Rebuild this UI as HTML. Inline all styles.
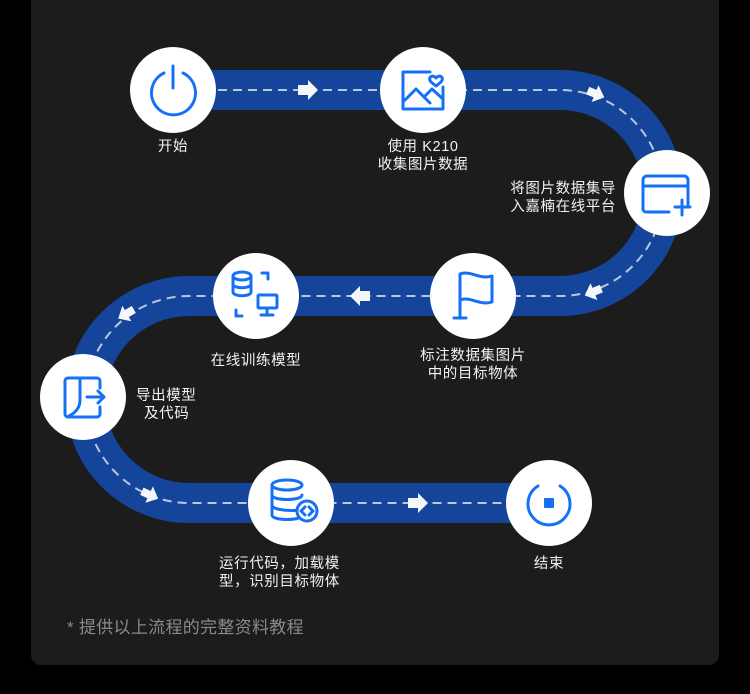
<!DOCTYPE html>
<html><head><meta charset="utf-8"><style>
html,body{margin:0;padding:0;background:#000;width:750px;height:694px;overflow:hidden}
svg{display:block}
text{font-family:"Liberation Sans","Noto Sans CJK SC",sans-serif;fill:#f2f2f2;font-size:14.5px;letter-spacing:0.6px}
</style></head><body>
<svg width="750" height="694" viewBox="0 0 750 694" xmlns="http://www.w3.org/2000/svg">
<rect x="0" y="0" width="750" height="694" fill="#000"/>
<rect x="31" y="-12" width="688" height="677" rx="10" fill="#1c1c1c"/>
<path d="M173 90 H560 A103 103 0 0 1 560 296 H189 A103.5 103.5 0 0 0 189 503 H549" fill="none" stroke="#15459a" stroke-width="40"/>
<path d="M173 90 H560 A103 103 0 0 1 560 296 H189 A103.5 103.5 0 0 0 189 503 H549" fill="none" stroke="#b9c7df" stroke-width="2" stroke-dasharray="9 6"/>
<g fill="#f4f6fa">
<path d="M298 85 h10 v-5 l10 10 -10 10 v-5 h-10z"/>
<path d="M408 498 h10 v-5 l10 10 -10 10 v-5 h-10z"/>
<path d="M370 291 h-10 v-5 l-10 10 10 10 v-5 h10z"/>
<g transform="translate(596 94) rotate(22)"><path d="M-9 -4 h8 v-5 l10 9 -10 9 v-5 h-8z"/></g>
<g transform="translate(593 292) rotate(158)"><path d="M-9 -4 h8 v-5 l10 9 -10 9 v-5 h-8z"/></g>
<g transform="translate(126 314) rotate(150)"><path d="M-9 -4 h8 v-5 l10 9 -10 9 v-5 h-8z"/></g>
<g transform="translate(150 495) rotate(25)"><path d="M-9 -4 h8 v-5 l10 9 -10 9 v-5 h-8z"/></g>
</g>
<g fill="#fff">
<circle cx="173" cy="90" r="43"/>
<circle cx="423" cy="90" r="43"/>
<circle cx="667" cy="193" r="43"/>
<circle cx="473" cy="296" r="43"/>
<circle cx="256" cy="296" r="43"/>
<circle cx="83" cy="397" r="43"/>
<circle cx="291" cy="503" r="43"/>
<circle cx="549" cy="503" r="43"/>
</g>
<g fill="none" stroke="#1670f5" stroke-width="3" stroke-linecap="round" stroke-linejoin="round">
<path d="M164 73 A22 22 0 1 0 183 73"/>
<line x1="173" y1="66" x2="173" y2="88"/>
<path d="M430 72 H403 v37 h40 v-22"/>
<path d="M404 101 l12 -12 l14 14 M424 97 l8 -8 l11 10"/>
<path d="M436 78 c-3-4 -9-1 -5 4 l5 4 l5-4 c4-5 -2-8 -5-4z"/>
<path d="M688 205 V180 a4 4 0 0 0 -4 -4 H647 a4 4 0 0 0 -4 4 V209 a3 3 0 0 0 3 3 H669"/>
<line x1="644" y1="186" x2="687" y2="186"/>
<path d="M682 200 v15 M675 207 h15"/>
<path d="M460 318 V274 c10 -4 20 6 32 2 V302 c-12 4 -22 -6 -32 -2"/>
<path d="M454 318 h12"/>
<ellipse cx="242" cy="276" rx="9" ry="4"/>
<path d="M233 276 v16 c0 5 18 5 18 0 v-16 M233 284 c0 5 18 5 18 0"/>
<path d="M262 273 h6 v6 M236 310 v6 h6"/>
<rect x="258" y="295" width="19" height="13" rx="1"/>
<path d="M267 308 v6 M261 315 h12"/>
<path d="M100 388 V381 a3 3 0 0 0 -3 -3 H68 a3 3 0 0 0 -3 3 V414 a3 3 0 0 0 3 3 H97 a3 3 0 0 0 3 -3 V407"/>
<path d="M80 379 V400 c0 8 -5 13 -11 16"/>
<path d="M87 397 H104 M98 391 l6 6 -6 6"/>
<ellipse cx="287" cy="485" rx="15" ry="5"/>
<path d="M272 485 v30 c0 6 30 6 30 0 M272 495 c0 6 30 6 30 0 M272 505 c0 6 24 6 26 5"/>
<circle cx="307" cy="511" r="10" fill="#fff"/>
<path d="M305 507 l-4 4 4 4 M309 507 l4 4 -4 4"/>
<path d="M538 486 A21 21 0 1 0 560 486"/>
</g>
<rect x="544" y="498" width="10" height="10" rx="1" fill="#1670f5"/>
<text x="173" y="151" text-anchor="middle">开始</text>
<text x="423" y="151" text-anchor="middle">使用 K210</text>
<text x="423" y="169" text-anchor="middle">收集图片数据</text>
<text x="616" y="193" text-anchor="end">将图片数据集导</text>
<text x="616" y="211" text-anchor="end">入嘉楠在线平台</text>
<text x="473" y="360" text-anchor="middle">标注数据集图片</text>
<text x="473" y="378" text-anchor="middle">中的目标物体</text>
<text x="256" y="365" text-anchor="middle">在线训练模型</text>
<text x="136" y="400">导出模型</text>
<text x="144" y="418">及代码</text>
<text x="219" y="568">运行代码，加载模</text>
<text x="219" y="586">型，识别目标物体</text>
<text x="549" y="568" text-anchor="middle">结束</text>
<text x="67" y="633" style="fill:#8a8a8a;font-size:17px;letter-spacing:0.3px">* 提供以上流程的完整资料教程</text>
</svg>
</body></html>
